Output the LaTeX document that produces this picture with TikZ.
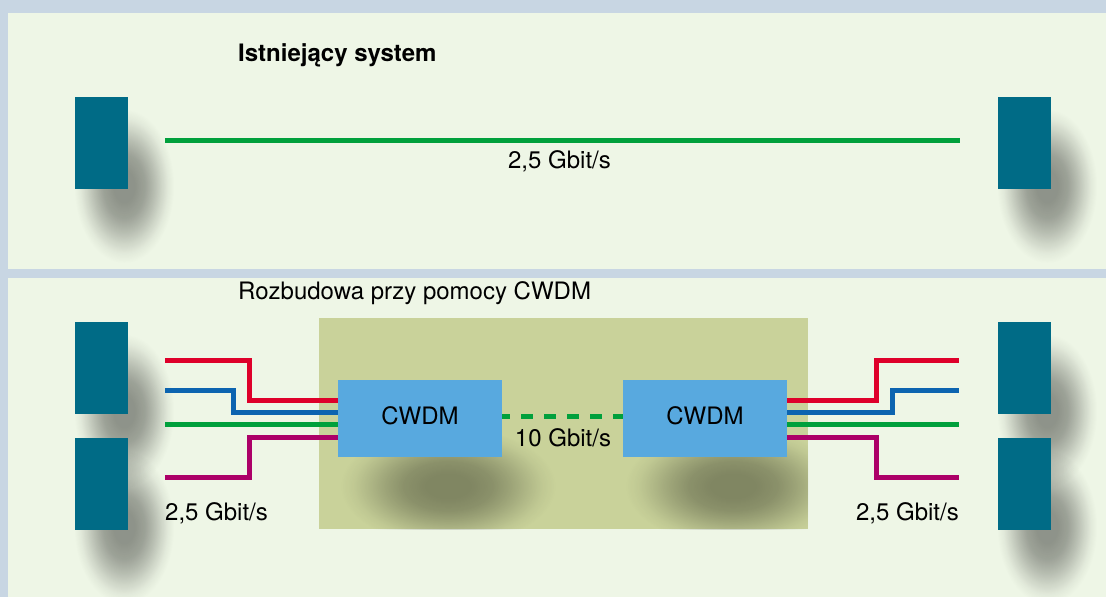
\documentclass[tikz,border=0pt]{standalone}
\usepackage{fontspec}
\setmainfont{TeX Gyre Heros}
\usetikzlibrary{fadings}

\definecolor{bgblue}{RGB}{200,214,227}
\definecolor{panel}{RGB}{238,246,230}
\definecolor{olive}{RGB}{201,210,154}
\definecolor{termblue}{RGB}{0,107,134}
\definecolor{boxblue}{RGB}{88,169,223}
\definecolor{fgreen}{RGB}{0,160,60}
\definecolor{fred}{RGB}{222,0,42}
\definecolor{fblue}{RGB}{12,100,176}
\definecolor{fpurple}{RGB}{172,0,104}

\pgfdeclareradialshading{softshade}{\pgfpointorigin}{color(0bp)=(white); color(5bp)=(white); color(10bp)=(white!85!black); color(14bp)=(white!60!black); color(18bp)=(white!32!black); color(21bp)=(white!12!black); color(24bp)=(black); color(50bp)=(black)}
\pgfdeclarefading{softshadow}{\pgfuseshading{softshade}}

\tikzset{
  term/.style={fill=termblue, inner sep=0pt, minimum width=53pt, minimum height=92pt},
  cwdm/.style={fill=boxblue, inner sep=0pt, minimum width=164pt, minimum height=77pt, text depth=6pt},
  fiber/.style={line width=5pt},
  blob/.style={fill=black, opacity=0.4, path fading=softshadow},
  lbl/.style={inner sep=0pt, font=\fontsize{24}{28}\selectfont},
}

\begin{document}
\begin{tikzpicture}[x=1pt,y=-1pt]

\useasboundingbox (0,0) rectangle (1106,597);
\fill[bgblue] (0,0) rectangle (1106,597);
\fill[panel] (8,13) rectangle (1106,269);
\fill[panel] (8,278) rectangle (1106,597);
\fill[olive] (319,318) rectangle (808,529);

% shadows
\fill[blob] (124,186) ellipse (52pt and 80pt);
\fill[blob] (1047,186) ellipse (52pt and 80pt);
\fill[blob] (124,411) ellipse (52pt and 80pt);
\fill[blob] (124,527) ellipse (52pt and 80pt);
\fill[blob] (1047,411) ellipse (52pt and 80pt);
\fill[blob] (1047,527) ellipse (52pt and 80pt);
\begin{scope}
\clip (319,318) rectangle (808,529);
\fill[blob, opacity=0.36] (448,486) ellipse (112pt and 62pt);
\fill[blob, opacity=0.36] (733,486) ellipse (112pt and 62pt);
\end{scope}

\node[term] (tl) at (101.5,143) {};
\node[term] (tr) at (1024.5,143) {};
\node[term] (bl1) at (101.5,368) {};
\node[term] (bl2) at (101.5,484) {};
\node[term] (br1) at (1024.5,368) {};
\node[term] (br2) at (1024.5,484) {};

\node[cwdm, lbl] (cwL) at (420,418.5) {CWDM};
\node[cwdm, lbl] (cwR) at (705,418.5) {CWDM};

\coordinate (e1) at (165,140.5);
\coordinate (e2) at (960,140.5);
\coordinate (r1) at (165,360);
\coordinate (b1) at (165,390);
\coordinate (g1) at (165,424);
\coordinate (p1) at (165,477);
\coordinate (r2) at (959,360);
\coordinate (b2) at (959,390);
\coordinate (g2) at (959,424);
\coordinate (p2) at (959,477);

\draw[fiber, fgreen] (e1) -- (e2);

\draw[fiber, fred] (r1) -| ++(84,40) -- ([yshift=18.5pt]cwL.west);
\draw[fiber, fblue] (b1) -| ++(68,22) -- ([yshift=6.5pt]cwL.west);
\draw[fiber, fgreen] (g1) -- ([yshift=-5.5pt]cwL.west);
\draw[fiber, fpurple] (p1) -| ++(84,-40) -- ([yshift=-18.5pt]cwL.west);

\draw[fiber, fred] ([yshift=18.5pt]cwR.east) -| ++(89,-40) -- (r2);
\draw[fiber, fblue] ([yshift=6.5pt]cwR.east) -| ++(105,-22) -- (b2);
\draw[fiber, fgreen] ([yshift=-5.5pt]cwR.east) -- (g2);
\draw[fiber, fpurple] ([yshift=-18.5pt]cwR.east) -| ++(89,40) -- (p2);

\draw[fiber, fgreen, dash pattern=on 12pt off 11pt, dash phase=4pt] ([yshift=2.5pt]cwL.east) -- ([yshift=2.5pt]cwR.west);

\node[lbl, anchor=base west] (t1) at (238,61) {\bfseries Istniejący system};
\node[lbl, anchor=base] (v1) at (559.5,168.5) {2,5 Gbit/s};
\node[lbl, anchor=base west] (t2) at (238,299) {Rozbudowa przy pomocy CWDM};
\node[lbl, anchor=base] (v2) at (563,446) {10 Gbit/s};
\node[lbl, anchor=base west] (v3) at (165,520) {2,5 Gbit/s};
\node[lbl, anchor=base east] (v4) at (959,520) {2,5 Gbit/s};

\end{tikzpicture}
\end{document}
